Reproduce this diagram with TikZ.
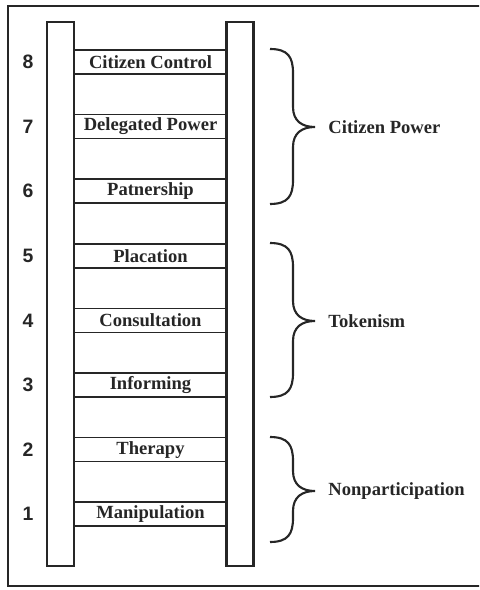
\documentclass[tikz,border=0pt]{standalone}
\usepackage{fontspec}
\setmainfont{Liberation Serif}
\newfontfamily\numfont{Liberation Sans}
\usepackage{tikz}
\usetikzlibrary{positioning, calc}

\begin{document}
\begin{tikzpicture}[
    x=0.025cm, y=-0.025cm,
    frame/.style={draw=black!85, line width=1.6pt},
    rail/.style={rectangle, draw=black!85, line width=1.5pt, minimum width=0.675cm, minimum height=13.6cm, inner sep=0pt},
    rung/.style={rectangle, draw=black!85, line width=1.2pt, minimum width=3.825cm, minimum height=0.6cm, inner sep=0pt, font=\fontsize{13.2}{15}\selectfont\bfseries, text=black!85},
    num/.style={font=\numfont\fontsize{13.8}{15}\selectfont\bfseries, text=black!85},
    curly/.style={draw=black!85, line width=1.5pt},
    group/.style={right=0.33cm of #1, inner sep=0pt, font=\fontsize{13.2}{15}\selectfont\bfseries, text=black!85}
]
\clip (0,0) rectangle (479,590);

% Frame (open on the right)
\draw[frame] (495,6) -- (8,6) -- (8,586) -- (495,586);

% Rails
\node[rail] (left rail) at (60.5,294) {};
\node[rail] (right rail) at (240,294) {};

% Rungs and numbers
\foreach \i/\txt in {8/Citizen Control, 7/Delegated Power, 6/Patnership, 5/Placation,
                     4/Consultation, 3/Informing, 2/Therapy, 1/Manipulation} {
    \node[rung] (rung-\i) at (150.5,{62+(8-\i)*64.6}) {\txt};
    \node[num] (num-\i) at (28,{62+(8-\i)*64.6}) {\i};
}

% Braces
\foreach \g/\top/\bot/\mid/\lab in {cp/49/204/127/Citizen Power,
                                    tok/243/397/321/Tokenism,
                                    non/437/542/491/Nonparticipation} {
    \coordinate (\g-tip) at (315,\mid);
    \draw[curly] (270,\top) .. controls (288,\top) and (293,\top+8) .. (293,\top+24)
        -- (293,\mid-20) .. controls (293,\mid-6) and (302,\mid) .. (\g-tip)
        .. controls (302,\mid) and (293,\mid+6) .. (293,\mid+20)
        -- (293,\bot-24) .. controls (293,\bot-8) and (288,\bot) .. (270,\bot);
    \node[group=\g-tip] (\g-label) {\lab};
}

\end{tikzpicture}
\end{document}
